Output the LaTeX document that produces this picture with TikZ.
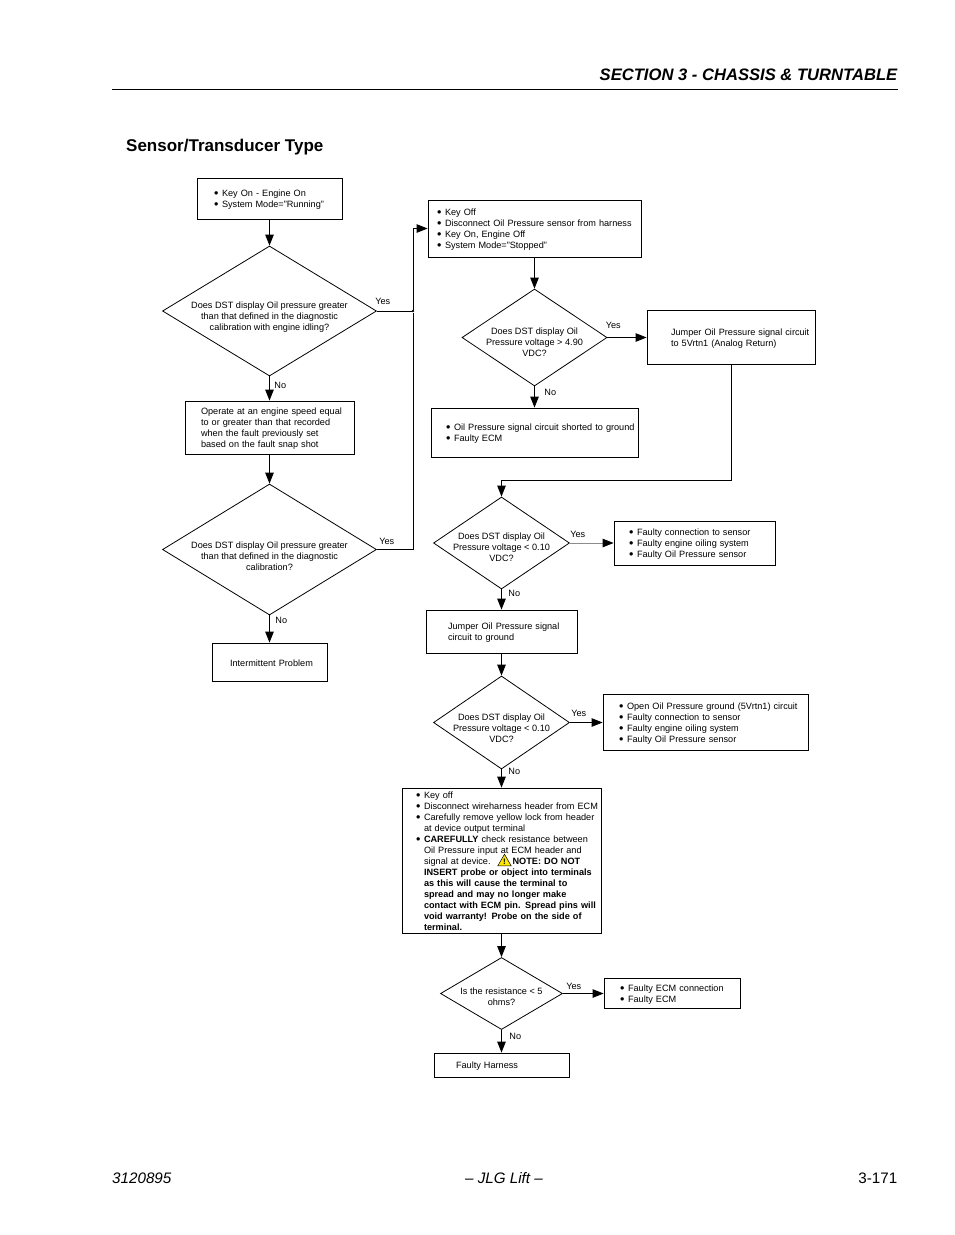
\documentclass[tikz,border=0pt]{standalone}
\usepackage{fontspec}
\setmainfont{Liberation Sans}
\usepackage{xcolor}
\usetikzlibrary{arrows.meta, positioning, shapes.geometric}

\newlength{\notepad}
\newcommand{\itm}[1]{\hspace*{\notepad}\makebox[8pt][l]{\raisebox{-0.9pt}{\fontsize{12.5}{11}\selectfont\textbullet}}#1}
\newcommand{\cont}[1]{\hspace*{\notepad}\hspace*{8pt}#1}
\newcommand{\plain}[1]{\hspace*{\notepad}#1}
% question text, does not change the size of the diamond
\newcommand{\ask}[2]{\makebox[0pt]{\raisebox{#1}[0pt][0pt]{$\vcenter{\hbox{\begin{tabular}{@{}c@{}}#2\end{tabular}}}$}}}

\begin{document}
\begin{tikzpicture}[
            x=1pt, y=-1pt,
            note/.style n args={3}{draw, rectangle, line width=0.8pt, inner sep=0pt,
                minimum width=#1, text width=#1, minimum height=#2, align=left,
                font=\fontsize{9.15}{11}\selectfont,
                execute at begin node={\setlength{\notepad}{#3}\rule{0pt}{8.8pt}}},
            query/.style 2 args={draw, diamond, line width=0.8pt, inner sep=0pt,
                minimum width=#1, minimum height=#2,
                font=\fontsize{9.15}{11}\selectfont},
            edge/.style={-{Triangle[length=11pt, width=8.5pt]}, line width=0.8pt},
            link/.style={-, line width=0.8pt},
            fainted/.style={-{Triangle[length=11pt, width=8.5pt, color=black]}, line width=0.8pt, black!45},
            weight/.style={font=\fontsize{9.15}{11}\selectfont, inner sep=0pt, text=black},
            yesmark/.style 2 args={weight, at start, anchor=south west, xshift=#1, yshift=#2},
            nomark/.style 2 args={weight, at start, anchor=north west, xshift=#1, yshift=-#2},
            dot/.style={circle, fill=black, inner sep=0pt, minimum size=2.6pt},
            page/.style={inner sep=0pt}
        ]
        \useasboundingbox (0,0) rectangle (954,1235);

        % Header and footer
        \node[page, anchor=east, font=\fontsize{16.6}{20}\selectfont\bfseries\itshape] (header) at (897.5,75) {SECTION 3 - CHASSIS \& TURNTABLE};
        \coordinate (ruleL) at (112,89.5);
        \coordinate (ruleR) at (897.5,89.5);
        \draw[line width=0.8pt] (ruleL) -- (ruleR);
        \node[page, anchor=west, font=\fontsize{17}{20}\selectfont\bfseries] (title) at (126,147) {Sensor/Transducer Type};
        \node[page, anchor=west, font=\fontsize{15.2}{18}\selectfont\itshape] (docno) at (112,1178) {3120895};
        \node[page, font=\fontsize{15.2}{18}\selectfont\itshape] (maker) at (504,1178) {-- JLG Lift --};
        \node[page, anchor=east, font=\fontsize{15.2}{18}\selectfont] (pageno) at (897.5,1178) {3-171};

        % Nodes, left column
        \node[note={145}{41}{17pt}] (start) at (269.5,198.5) {\itm{Key On - Engine On}\\\itm{System Mode="Running"}};
        \node[query={214}{130}] (D1) at (269.5,311) {\ask{-9pt}{Does DST display Oil pressure greater\\than that defined in the diagnostic\\calibration with engine idling?}};
        \node[note={169}{53}{16pt}] (operate) at (269.5,427.5) {\plain{Operate at an engine speed equal}\\\plain{to or greater than that recorded}\\\plain{when the fault previously set}\\\plain{based on the fault snap shot}};
        \node[query={214}{131}] (D2) at (269.5,549.5) {\ask{-10pt}{Does DST display Oil pressure greater\\than that defined in the diagnostic\\calibration?}};
        \node[note={115}{38}{18pt}] (intermit) at (269.5,662) {\plain{Intermittent Problem}};
        \node[dot] (J1) at (413,311) {};

        % Nodes, middle and right columns
        \node[note={213}{57}{9pt}] (keyoff) at (534.5,228.5) {\itm{Key Off}\\\itm{Disconnect Oil Pressure sensor from harness}\\\itm{Key On, Engine Off}\\\itm{System Mode="Stopped"}};
        \node[query={145}{97}] (D3) at (534.5,337.5) {\ask{-8pt}{Does DST display Oil\\Pressure voltage > 4.90\\VDC?}};
        \node[note={168}{54}{24pt}] (jumper) at (731,337.5) {\plain{Jumper Oil Pressure signal circuit}\\\plain{to 5Vrtn1 (Analog Return)}};
        \node[note={207}{49}{15pt}] (shorted) at (534.5,432.5) {\itm{Oil Pressure signal circuit shorted to ground}\\\itm{Faulty ECM}};
        \node[query={136}{92}] (D4) at (501.5,543) {\ask{-8pt}{Does DST display Oil\\Pressure voltage < 0.10\\VDC?}};
        \node[note={161}{44}{15pt}] (faulty) at (694.5,543) {\itm{Faulty connection to sensor}\\\itm{Faulty engine oiling system}\\\itm{Faulty Oil Pressure sensor}};
        \node[note={151}{43}{22pt}] (jumpertwo) at (501.5,631.5) {\plain{Jumper Oil Pressure signal}\\\plain{circuit to ground}};
        \node[query={136}{93}] (D5) at (501.5,722.5) {\ask{-9pt}{Does DST display Oil\\Pressure voltage < 0.10\\VDC?}};
        \node[note={205}{56}{16pt}] (openground) at (705.5,722.5) {\itm{Open Oil Pressure ground (5Vrtn1) circuit}\\\itm{Faulty connection to sensor}\\\itm{Faulty engine oiling system}\\\itm{Faulty Oil Pressure sensor}};
        \node[note={199}{145}{14pt}] (ecm) at (501.5,860.5) {\itm{Key off}\\\itm{Disconnect wireharness header from ECM}\\\itm{Carefully remove yellow lock from header}\\\cont{at device output terminal}\\\itm{\textbf{CAREFULLY} check resistance between}\\\cont{Oil Pressure input at ECM header and}\\\cont{signal at device.\hspace{22pt}\textbf{NOTE: DO NOT}}\\\cont{\textbf{INSERT probe or object into terminals}}\\\cont{\textbf{as this will cause the terminal to}}\\\cont{\textbf{spread and may no longer make}}\\\cont{\textbf{contact with ECM pin.  Spread pins will}}\\\cont{\textbf{void warranty!  Probe on the side of}}\\\cont{\textbf{terminal.}}};
        \node[regular polygon, regular polygon sides=3, draw=black, fill=yellow!90!orange, line width=0.5pt, inner sep=0pt, minimum size=15pt, font=\fontsize{8}{8}\selectfont\bfseries] (warn) at (504.5,862) {!};
        \node[query={122}{72}] (D6) at (501.5,993.5) {\ask{-7pt}{Is the resistance < 5\\ohms?}};
        \node[note={136}{30}{16pt}] (faultyecm) at (672,993.5) {\itm{Faulty ECM connection}\\\itm{Faulty ECM}};
        \node[note={135}{24}{22pt}] (harness) at (501.5,1065) {\plain{Faulty Harness}};

        % Edges
        \draw[edge] (start) -- (D1);
        \draw[edge] (D1) -- node[nomark={4.5pt}{5pt}] {No} (operate);
        \draw[edge] (operate) -- (D2);
        \draw[edge] (D2) -- node[nomark={5.5pt}{1pt}] {No} (intermit);

        \draw[link] (D1.east) -- node[yesmark={-2pt}{6pt}] {Yes} (J1);
        \draw[link] (D2.east) -| node[yesmark={2pt}{5pt}] {Yes} (J1);
        \draw[edge] (J1) |- (keyoff.west);

        \draw[edge] (keyoff) -- (D3);
        \draw[edge] (D3.east) -- node[yesmark={-2pt}{9pt}] {Yes} (jumper.west);
        \draw[edge] (D3) -- node[nomark={9.5pt}{2pt}] {No} (shorted);
        \draw[edge] (jumper.south) |- (501.5,480) -- (D4.north);

        \draw[fainted] (D4.east) -- node[yesmark={0pt}{5pt}] {Yes} (faulty.west);
        \draw[edge] (D4) -- node[nomark={6.5pt}{0pt}] {No} (jumpertwo);
        \draw[edge] (jumpertwo) -- (D5);
        \draw[edge] (D5.east) -- node[yesmark={1pt}{6pt}] {Yes} (openground.west);
        \draw[edge] (D5) -- node[nomark={6.5pt}{-2pt}] {No} (ecm);
        \draw[edge] (ecm) -- (D6);
        \draw[edge] (D6.east) -- node[yesmark={3pt}{4pt}] {Yes} (faultyecm.west);
        \draw[edge] (D6) -- node[nomark={7.5pt}{3pt}] {No} (harness);

    \end{tikzpicture}
\end{document}
